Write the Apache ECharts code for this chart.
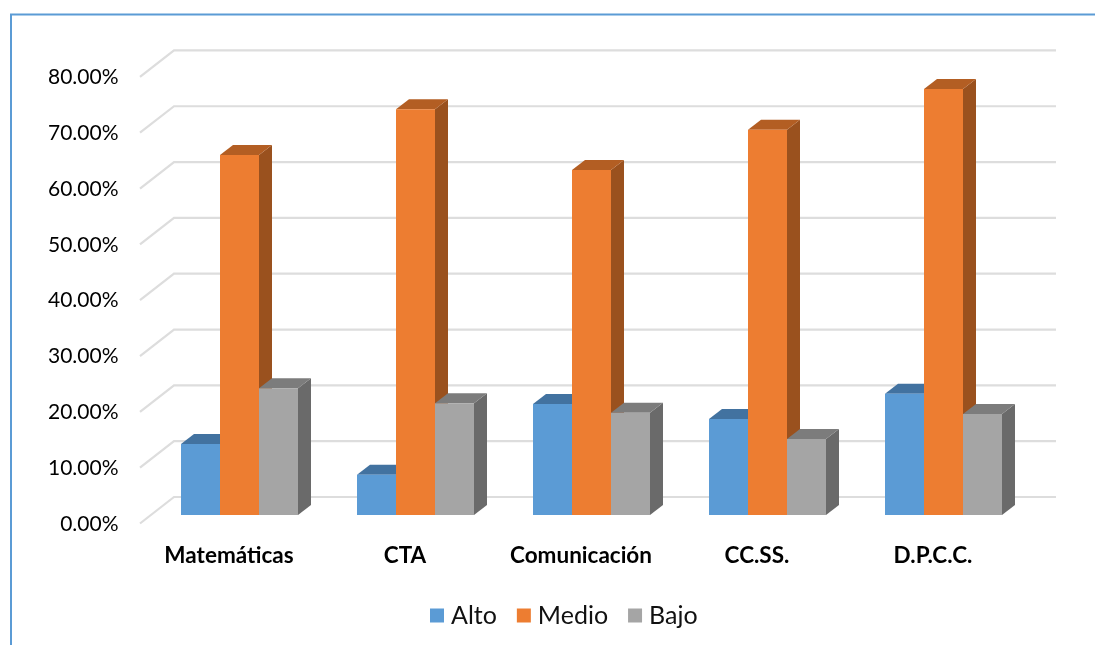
<!DOCTYPE html>
<html><head><meta charset="utf-8">
<style>html,body{margin:0;padding:0;background:#fff}#c{width:1095px;height:645px}</style>
<script src="https://cdn.jsdelivr.net/npm/echarts@6/dist/echarts.min.js"></script>
</head><body><div id="c"></div>
<script>
const categories = ['Matemáticas','CTA','Comunicación','CC.SS.','D.P.C.C.'];
const alto  = [12.7, 7.2, 19.9, 17.2, 21.7];
const medio = [64.5, 72.7, 61.8, 69.0, 76.3];
const bajo  = [22.7, 20.0, 18.3, 13.6, 18.1];
const ticks = [0,10,20,30,40,50,60,70,80];

const chart = echarts.init(document.getElementById('c'), null, {renderer:'canvas'});
const DX = 13, DY = 10;

function barSeries(name, values, idx, front, top, side){
  return {
    name, type:'custom', coordinateSystem:'cartesian2d', z:3,
    itemStyle:{color:front},
    encode:{x:0,y:1},
    data: values.map((v,i)=>[i,v]),
    renderItem(params, api){
      const p = api.coord([api.value(0), api.value(1)]);
      const base = api.coord([api.value(0), 0]);
      const band = api.size([1,0])[0];
      const w = band*117/176/3;
      const x0 = p[0] - band/2 + band*29.5/176 + idx*w;
      const x1 = x0 + w, y0 = p[1], y1 = base[1];
      return {type:'group', children:[
        {type:'polygon', shape:{points:[[x1,y0],[x1+DX,y0-DY],[x1+DX,y1-DY],[x1,y1]]}, style:{fill:side}},
        {type:'polygon', shape:{points:[[x0,y0],[x0+DX,y0-DY],[x1+DX,y0-DY],[x1,y0]]}, style:{fill:top}},
        {type:'rect', shape:{x:x0,y:y0,width:w,height:y1-y0}, style:{fill:front}}
      ]};
    }
  };
}

chart.setOption({
  animation:false,
  backgroundColor:'#fff',
  textStyle:{fontFamily:'Lato'},
  graphic:[{type:'polyline', silent:true, z:0,
    shape:{points:[[11,645],[11,14.5],[1095,14.5]]},
    style:{stroke:'#5B9BD5', lineWidth:2, fill:'none'}}],
  grid:{left:151.5, width:880, top:68.4, height:446.6},
  legend:{
    data:['Alto','Medio','Bajo'], left:430, top:603, padding:0, icon:'rect',
    itemWidth:14, itemHeight:14, itemGap:20, selectedMode:false,
    textStyle:{fontFamily:'Lato', fontSize:25, color:'#111', padding:[0,0,0,2]}
  },
  xAxis:{type:'category', data:categories,
    axisLine:{show:false}, axisTick:{show:false}, splitLine:{show:false},
    axisLabel:{interval:0, margin:29, fontFamily:'Lato', fontWeight:'bold', fontSize:22.5, color:'#000', padding:[0,21,0,0]}},
  yAxis:{type:'value', min:0, max:80, interval:10,
    axisLine:{show:false}, axisTick:{show:false}, splitLine:{show:false},
    axisLabel:{margin:33, fontFamily:'Lato', fontSize:21, color:'#000', verticalAlign:'top', lineHeight:18,
      formatter:v=>v.toFixed(2)+'%'}},
  series:[
    {type:'custom', name:'grid', coordinateSystem:'cartesian2d', z:1, silent:true,
     encode:{x:0,y:1}, data:ticks.map(t=>[0,t]),
     renderItem(params, api){
       const cs = params.coordSys;
       const y = api.coord([0, api.value(1)])[1];
       return {type:'polyline', shape:{points:[[cs.x-11.5,y+8.5],[cs.x+22.5,y-18],[cs.x+cs.width+24.5,y-18]]},
         style:{stroke:'#DDDDDD', lineWidth:2.2, fill:null}};
     }},
    barSeries('Alto', alto, 0, '#5B9BD5', '#4272A0', '#3F6F9C'),
    barSeries('Medio', medio, 1, '#ED7D31', '#B35E23', '#9A511E'),
    barSeries('Bajo', bajo, 2, '#A5A5A5', '#7C7C7C', '#6A6A6A')
  ]
});
</script></body></html>
